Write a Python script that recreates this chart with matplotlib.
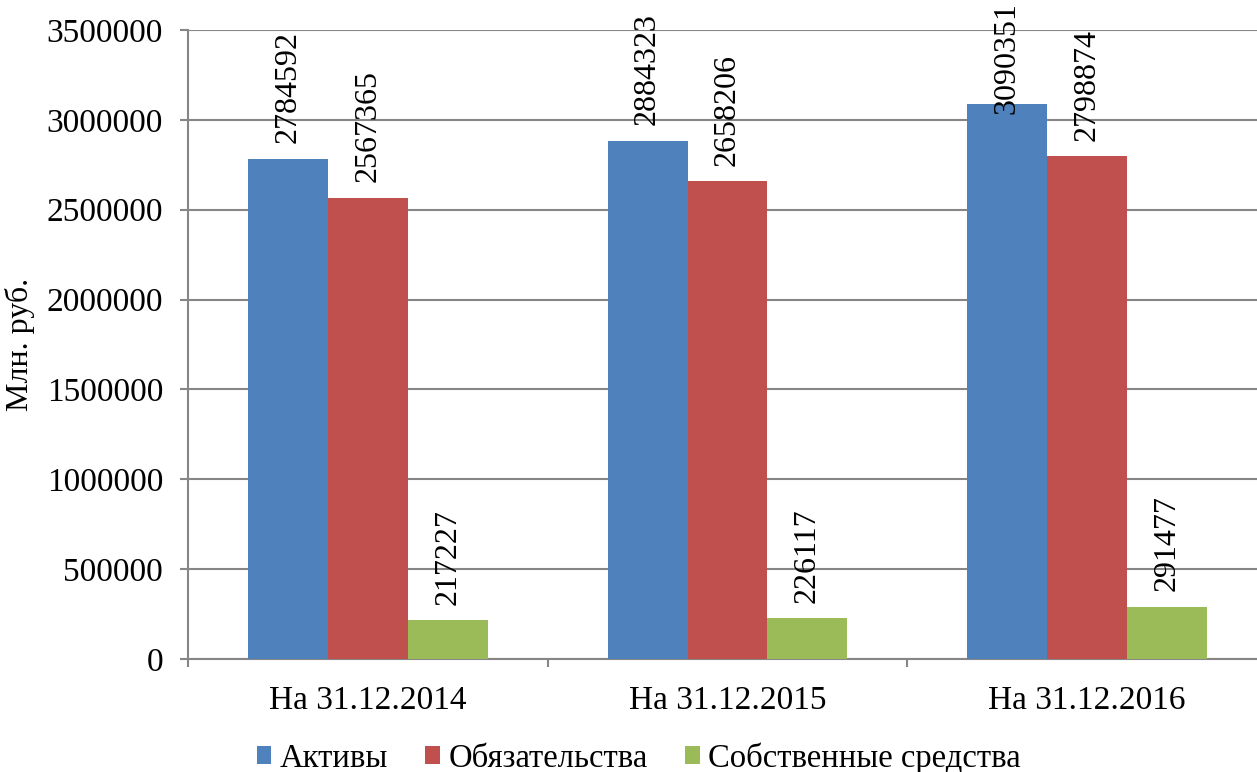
import numpy as np
import matplotlib.pyplot as plt
from matplotlib import transforms

categories = ["На 31.12.2014", "На 31.12.2015", "На 31.12.2016"]
series_names = ["Активы", "Обязательства", "Собственные средства"]
assets = [2784592, 2884323, 3090351]
liabilities = [2567365, 2658206, 2798874]
equity = [217227, 226117, 291477]
y_ticks = [0, 500000, 1000000, 1500000, 2000000, 2500000, 3000000, 3500000]

colors = ["#4F81BD", "#C0504D", "#9BBB59"]
grid_color = "#868686"

plt.rcParams["font.family"] = ["Liberation Serif", "DejaVu Serif"]

fig = plt.figure(figsize=(12.57, 7.72), dpi=100)
ax = fig.add_axes([188 / 1257, 1 - 659 / 772, (1267 - 188) / 1257, (659 - 30) / 772])
ax.set_xlim(-0.5, 2.5)
ax.set_ylim(0, 3500000)

x = np.arange(len(categories))
width = 2 / 9
values = [assets, liabilities, equity]
renderer = fig.canvas.get_renderer()
label_trans = transforms.offset_copy(ax.transData, fig=fig, y=11, units="points")

for i, (name, vals) in enumerate(zip(series_names, values)):
    pos = x + (i - 1) * width
    ax.bar(pos, vals, width, color=colors[i], label=name, edgecolor="none", zorder=3)
    for px, v in zip(pos, vals):
        t = ax.text(px, v, str(v), transform=label_trans, rotation=90,
                    ha="center", va="bottom", fontsize=23)
        bb = t.get_window_extent(renderer=renderer)
        if bb.y1 > fig.bbox.height - 2:
            # push the label down so it stays inside the picture, as in the original
            t.remove()
            trans = transforms.blended_transform_factory(ax.transData, fig.transFigure)
            ax.text(px, 0.997, str(v), transform=trans, rotation=90, ha="center",
                    va="top", fontsize=23)

ax.set_yticks(y_ticks)
ax.set_yticklabels([str(v) for v in y_ticks])
ax.set_xticks(x)
ax.set_xticklabels(categories)
ax.set_xticks(np.arange(-0.5, 3.0, 1.0), minor=True)
ax.tick_params(axis="x", which="major", length=0, pad=19, labelsize=24)
ax.tick_params(axis="x", which="minor", length=6, width=1.5, color=grid_color, direction="out")
ax.tick_params(axis="y", length=6, width=1.5, color=grid_color, pad=12, labelsize=24)

ax.grid(True, axis="y", color=grid_color, linewidth=1.5, zorder=0)
for side in ["top", "right"]:
    ax.spines[side].set_visible(False)
for side in ["left", "bottom"]:
    ax.spines[side].set_color(grid_color)
    ax.spines[side].set_linewidth(1.5)

ax.set_ylabel("Млн. руб.", fontsize=23, labelpad=8)

fig.legend(loc="center", bbox_to_anchor=(0.508, 0.018), ncol=3, frameon=False,
           fontsize=23.5, handlelength=0.45, handleheight=0.45, handletextpad=0.25,
           columnspacing=1.15)

fig.savefig("out.png", dpi=100)
